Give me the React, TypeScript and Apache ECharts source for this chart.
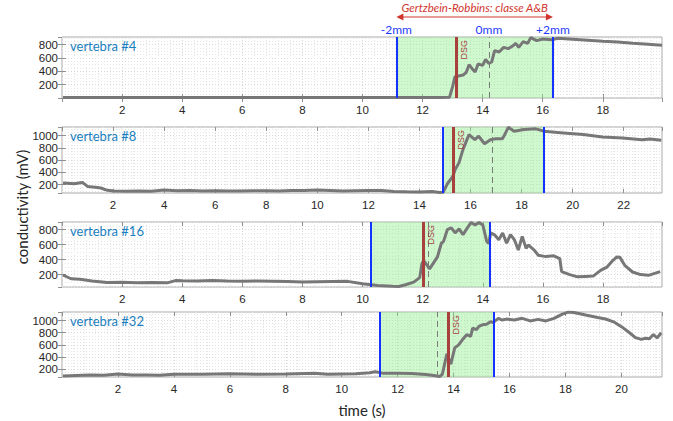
import { useEffect, useRef } from 'react';
import * as echarts from 'echarts';

// ---- data (time in s, conductivity in mV) ----
const t4 = [0.03, 1, 2, 3, 4, 5, 6, 7, 8, 9, 10, 11, 12, 12.6, 12.9, 13.0, 13.08, 13.2, 13.35, 13.45, 13.55, 13.65, 13.75, 13.85, 14.0, 14.1, 14.2, 14.3, 14.4, 14.55, 14.7, 14.85, 15.0, 15.1, 15.2, 15.35, 15.5, 15.6, 15.8, 16.0, 16.3, 16.5, 17.0, 17.5, 18.0, 18.5, 19.0, 19.5, 19.97];
const v4 = [8, 6, 8, 7, 6, 8, 7, 8, 7, 9, 8, 9, 8, 9, 12, 170, 320, 330, 345, 380, 500, 440, 390, 510, 490, 580, 520, 540, 710, 690, 760, 740, 780, 820, 760, 845, 820, 905, 860, 885, 875, 895, 880, 865, 850, 840, 820, 805, 790];

const t8 = [0.04, 0.47, 0.8, 1.0, 1.3, 1.52, 1.78, 2.04, 2.5, 3, 3.5, 4, 4.5, 5, 5.5, 6, 6.5, 7, 7.5, 8, 8.5, 9, 9.5, 10, 10.5, 11, 11.5, 12, 12.5, 13, 13.5, 14, 14.5, 14.8, 14.93, 15.1, 15.3, 15.39, 15.55, 15.7, 15.94, 16.17, 16.32, 16.55, 16.78, 17.0, 17.25, 17.32, 17.48, 17.71, 18.1, 18.56, 18.87, 19.64, 20.41, 21.18, 21.95, 22.72, 23.03, 23.47];
const v8 = [228, 215, 237, 172, 160, 146, 108, 98, 92, 98, 95, 112, 100, 104, 97, 102, 99, 97, 102, 100, 98, 104, 106, 114, 106, 96, 101, 104, 106, 90, 86, 83, 88, 73, 78, 220, 330, 437, 560, 768, 1016, 934, 990, 867, 934, 950, 950, 1000, 1135, 1070, 1100, 1110, 1072, 1044, 1016, 978, 961, 934, 945, 923];

const t16 = [0.03, 0.3, 0.6, 1.0, 1.5, 2.0, 2.5, 3.0, 3.5, 3.77, 4.0, 4.5, 5.0, 5.5, 6.0, 6.5, 7.0, 7.5, 8.0, 8.5, 9.0, 9.5, 10.0, 10.5, 11.0, 11.2, 11.4, 11.7, 11.9, 11.97, 12.03, 12.23, 12.49, 12.62, 12.69, 12.82, 12.95, 13.08, 13.21, 13.34, 13.48, 13.61, 13.74, 13.87, 14.0, 14.13, 14.2, 14.26, 14.39, 14.53, 14.66, 14.79, 14.92, 15.05, 15.18, 15.31, 15.44, 15.51, 15.71, 15.84, 16.1, 16.36, 16.56, 16.62, 16.89, 17.15, 17.41, 17.67, 17.93, 18.13, 18.33, 18.46, 18.56, 18.72, 18.98, 19.25, 19.51, 19.9];
const v16 = [195, 145, 138, 115, 95, 98, 92, 95, 90, 120, 118, 115, 120, 115, 112, 115, 112, 108, 100, 105, 108, 110, 78, 55, 45, 42, 62, 100, 160, 340, 390, 277, 436, 618, 640, 800, 823, 755, 810, 732, 820, 895, 860, 895, 860, 641, 618, 755, 730, 664, 755, 618, 732, 664, 527, 709, 550, 595, 527, 459, 440, 450, 414, 240, 200, 170, 175, 180, 260, 300, 390, 435, 430, 324, 235, 200, 190, 240];

const t32 = [0.03, 0.5, 1, 1.5, 2.0, 2.5, 3, 3.5, 4, 5, 6, 7, 8, 9.03, 9.5, 10, 10.5, 11.0, 11.2, 11.5, 12, 12.5, 13, 13.3, 13.5, 13.6, 13.76, 13.9, 14.04, 14.18, 14.32, 14.47, 14.61, 14.68, 14.82, 14.9, 15.03, 15.18, 15.32, 15.42, 15.6, 15.74, 15.89, 16.17, 16.45, 16.74, 17.02, 17.3, 17.59, 17.87, 18.09, 18.3, 18.72, 19.15, 19.43, 19.72, 20.0, 20.29, 20.5, 20.71, 20.86, 21.0, 21.14, 21.28, 21.42];
const v32 = [85, 95, 102, 100, 118, 102, 105, 100, 115, 115, 122, 115, 120, 132, 115, 120, 125, 140, 158, 130, 130, 128, 112, 95, 78, 119, 454, 281, 551, 600, 687, 768, 740, 876, 850, 903, 930, 940, 980, 970, 1038, 1010, 1025, 1010, 1038, 995, 1020, 995, 1038, 1103, 1140, 1135, 1092, 1050, 1027, 980, 900, 800, 720, 690, 710, 700, 770, 715, 800];

const times = [t4, t8, t16, t32];
const values = [v4, v8, v16, v32];
const names = ['vertebra #4', 'vertebra #8', 'vertebra #16', 'vertebra #32'];

const xMax = [19.97, 23.5, 19.96, 21.45];
const yMin = [0, 65, 35, 70];
const yMax = [915, 1140, 901, 1142];

const blueL = [11.13, 14.9, 10.26, 11.37];
const dsgT = [13.12, 15.32, 12.01, 13.8];
const zeroT = [14.21, 16.86, 12.19, 13.43];
const blueR = [16.34, 18.87, 14.22, 15.42];
const mmLabels = ['-2mm', '0mm', '+2mm'];
const rangeTitle = 'Gertzbein-Robbins: classe A&B';

// ---- layout ----
const gridTop = [37, 127, 222, 312];
const gridH = [61, 66, 65, 65];
const LEFT = 62;
const WIDTH = 600;
const TICK_FONT = 'Liberation Sans';
const NAME_FONT = 'Lato';

export default function App() {
  const ref = useRef<HTMLDivElement>(null);
  useEffect(() => {
    const chart = echarts.init(ref.current!, undefined, { renderer: 'svg' });
    const grid: any[] = [];
    const xAxis: any[] = [];
    const yAxis: any[] = [];
    const series: any[] = [];
    for (let i = 0; i < 4; i++) {
      grid.push({ left: LEFT, top: gridTop[i], width: WIDTH, height: gridH[i], show: true, borderColor: '#a8a8a8', borderWidth: 1, backgroundColor: '#ffffff' });
      const xCommon = { type: 'value', gridIndex: i, min: 0, max: xMax[i], interval: 2, axisLine: { show: false } };
      xAxis.push({
        ...xCommon, position: 'bottom',
        axisTick: { inside: true, length: 4, lineStyle: { color: '#909090' } },
        axisLabel: { showMinLabel: false, showMaxLabel: false, color: '#262626', fontSize: 11.5, margin: 6, fontFamily: TICK_FONT },
        splitLine: { show: true, lineStyle: { color: '#d8d8d8', type: [1, 2], width: 1 } },
        minorTick: { show: false, splitNumber: 5 },
        minorSplitLine: { show: true, lineStyle: { color: '#e6e6e6', type: [1, 2], width: 1 } },
      });
      xAxis.push({
        ...xCommon, position: 'top',
        axisTick: { inside: true, length: 4, lineStyle: { color: '#909090' } },
        axisLabel: { show: false }, splitLine: { show: false },
      });
      const yCommon = { type: 'value', gridIndex: i, min: yMin[i], max: yMax[i], splitNumber: 5, axisLine: { show: false } };
      yAxis.push({
        ...yCommon, position: 'left',
        axisTick: { inside: true, length: 4, lineStyle: { color: '#909090' } },
        axisLabel: { showMinLabel: false, showMaxLabel: false, color: '#262626', fontSize: 11.5, margin: 4, fontFamily: TICK_FONT, formatter: (v: number) => String(v) },
        splitLine: { show: true, lineStyle: { color: '#d8d8d8', type: [1, 2], width: 1 } },
        minorTick: { show: false, splitNumber: 4 },
        minorSplitLine: { show: true, lineStyle: { color: '#e6e6e6', type: [1, 2], width: 1 } },
      });
      yAxis.push({
        ...yCommon, position: 'right',
        axisTick: { inside: true, length: 4, lineStyle: { color: '#909090' } },
        axisLabel: { show: false }, splitLine: { show: false },
      });
      const mmLabel = (txt: string) => i === 0
        ? { show: true, formatter: txt, position: 'end', distance: 2, color: '#1f3cff', fontSize: 12, fontFamily: NAME_FONT }
        : { show: false };
      series.push({
        type: 'line',
        xAxisIndex: 2 * i,
        yAxisIndex: 2 * i,
        data: times[i].map((t, k) => [t, values[i][k]]),
        showSymbol: false,
        symbol: 'none',
        lineStyle: { color: '#777777', width: 3 },
        z: 3,
        markArea: {
          silent: true,
          itemStyle: { color: 'rgba(140, 238, 140, 0.42)' },
          data: [[{ xAxis: blueL[i] }, { xAxis: blueR[i] }]],
        },
        markLine: {
          silent: true,
          symbol: ['none', 'none'],
          animation: false,
          data: [
            { xAxis: blueL[i], lineStyle: { color: '#1433ff', width: 2, type: 'solid' }, label: mmLabel(mmLabels[0]) },
            { xAxis: zeroT[i], lineStyle: { color: '#7a7a7a', width: 1, type: [6, 4] }, label: mmLabel(mmLabels[1]) },
            { xAxis: dsgT[i], lineStyle: { color: '#a8403e', width: 3, type: 'solid' },
              label: { show: true, formatter: 'DSG', position: 'insideEndBottom', distance: 3, color: '#a8403e', fontSize: 9, fontFamily: TICK_FONT } },
            { xAxis: blueR[i], lineStyle: { color: '#1433ff', width: 2, type: 'solid' }, label: mmLabel(mmLabels[2]) },
          ],
        },
      });
    }
    chart.setOption({
      animation: false,
      grid, xAxis, yAxis, series,
    });
    const xl = chart.convertToPixel({ xAxisIndex: 0 }, blueL[0]) as number;
    const xr = chart.convertToPixel({ xAxisIndex: 0 }, blueR[0]) as number;
    const ay = 17;
    const red = '#d0362e';
    const graphic: any[] = [
      { type: 'line', shape: { x1: xl + 5, y1: ay, x2: xr - 5, y2: ay }, style: { stroke: red, lineWidth: 1 } },
      { type: 'polygon', shape: { points: [[xl, ay], [xl + 7, ay - 3.5], [xl + 7, ay + 3.5]] }, style: { fill: red } },
      { type: 'polygon', shape: { points: [[xr, ay], [xr - 7, ay - 3.5], [xr - 7, ay + 3.5]] }, style: { fill: red } },
      { type: 'text', x: (xl + xr) / 2, y: 7, style: { text: rangeTitle, fill: red, font: 'italic 11.5px Lato', textAlign: 'center', textVerticalAlign: 'middle' } },
      { type: 'text', x: 22, y: 207, rotation: Math.PI / 2, style: { text: 'conductivity (mV)', fill: '#262626', font: '15px Lato', textAlign: 'center', textVerticalAlign: 'middle' } },
      { type: 'text', x: 362, y: 410, style: { text: 'time (s)', fill: '#262626', font: '15px Lato', textAlign: 'center', textVerticalAlign: 'middle' } },
    ];
    for (let i = 0; i < 4; i++) {
      graphic.push({ type: 'text', x: LEFT + 8, y: gridTop[i] + 9, z: 10, style: { text: names[i], fill: '#1a7fc0', font: '13px Lato', textAlign: 'left', textVerticalAlign: 'middle' } });
    }
    chart.setOption({ graphic });
    return () => chart.dispose();
  }, []);
  return <div ref={ref} style={{ position: 'fixed', left: 0, top: 0, width: 673, height: 421, background: '#fff' }} />;
}
